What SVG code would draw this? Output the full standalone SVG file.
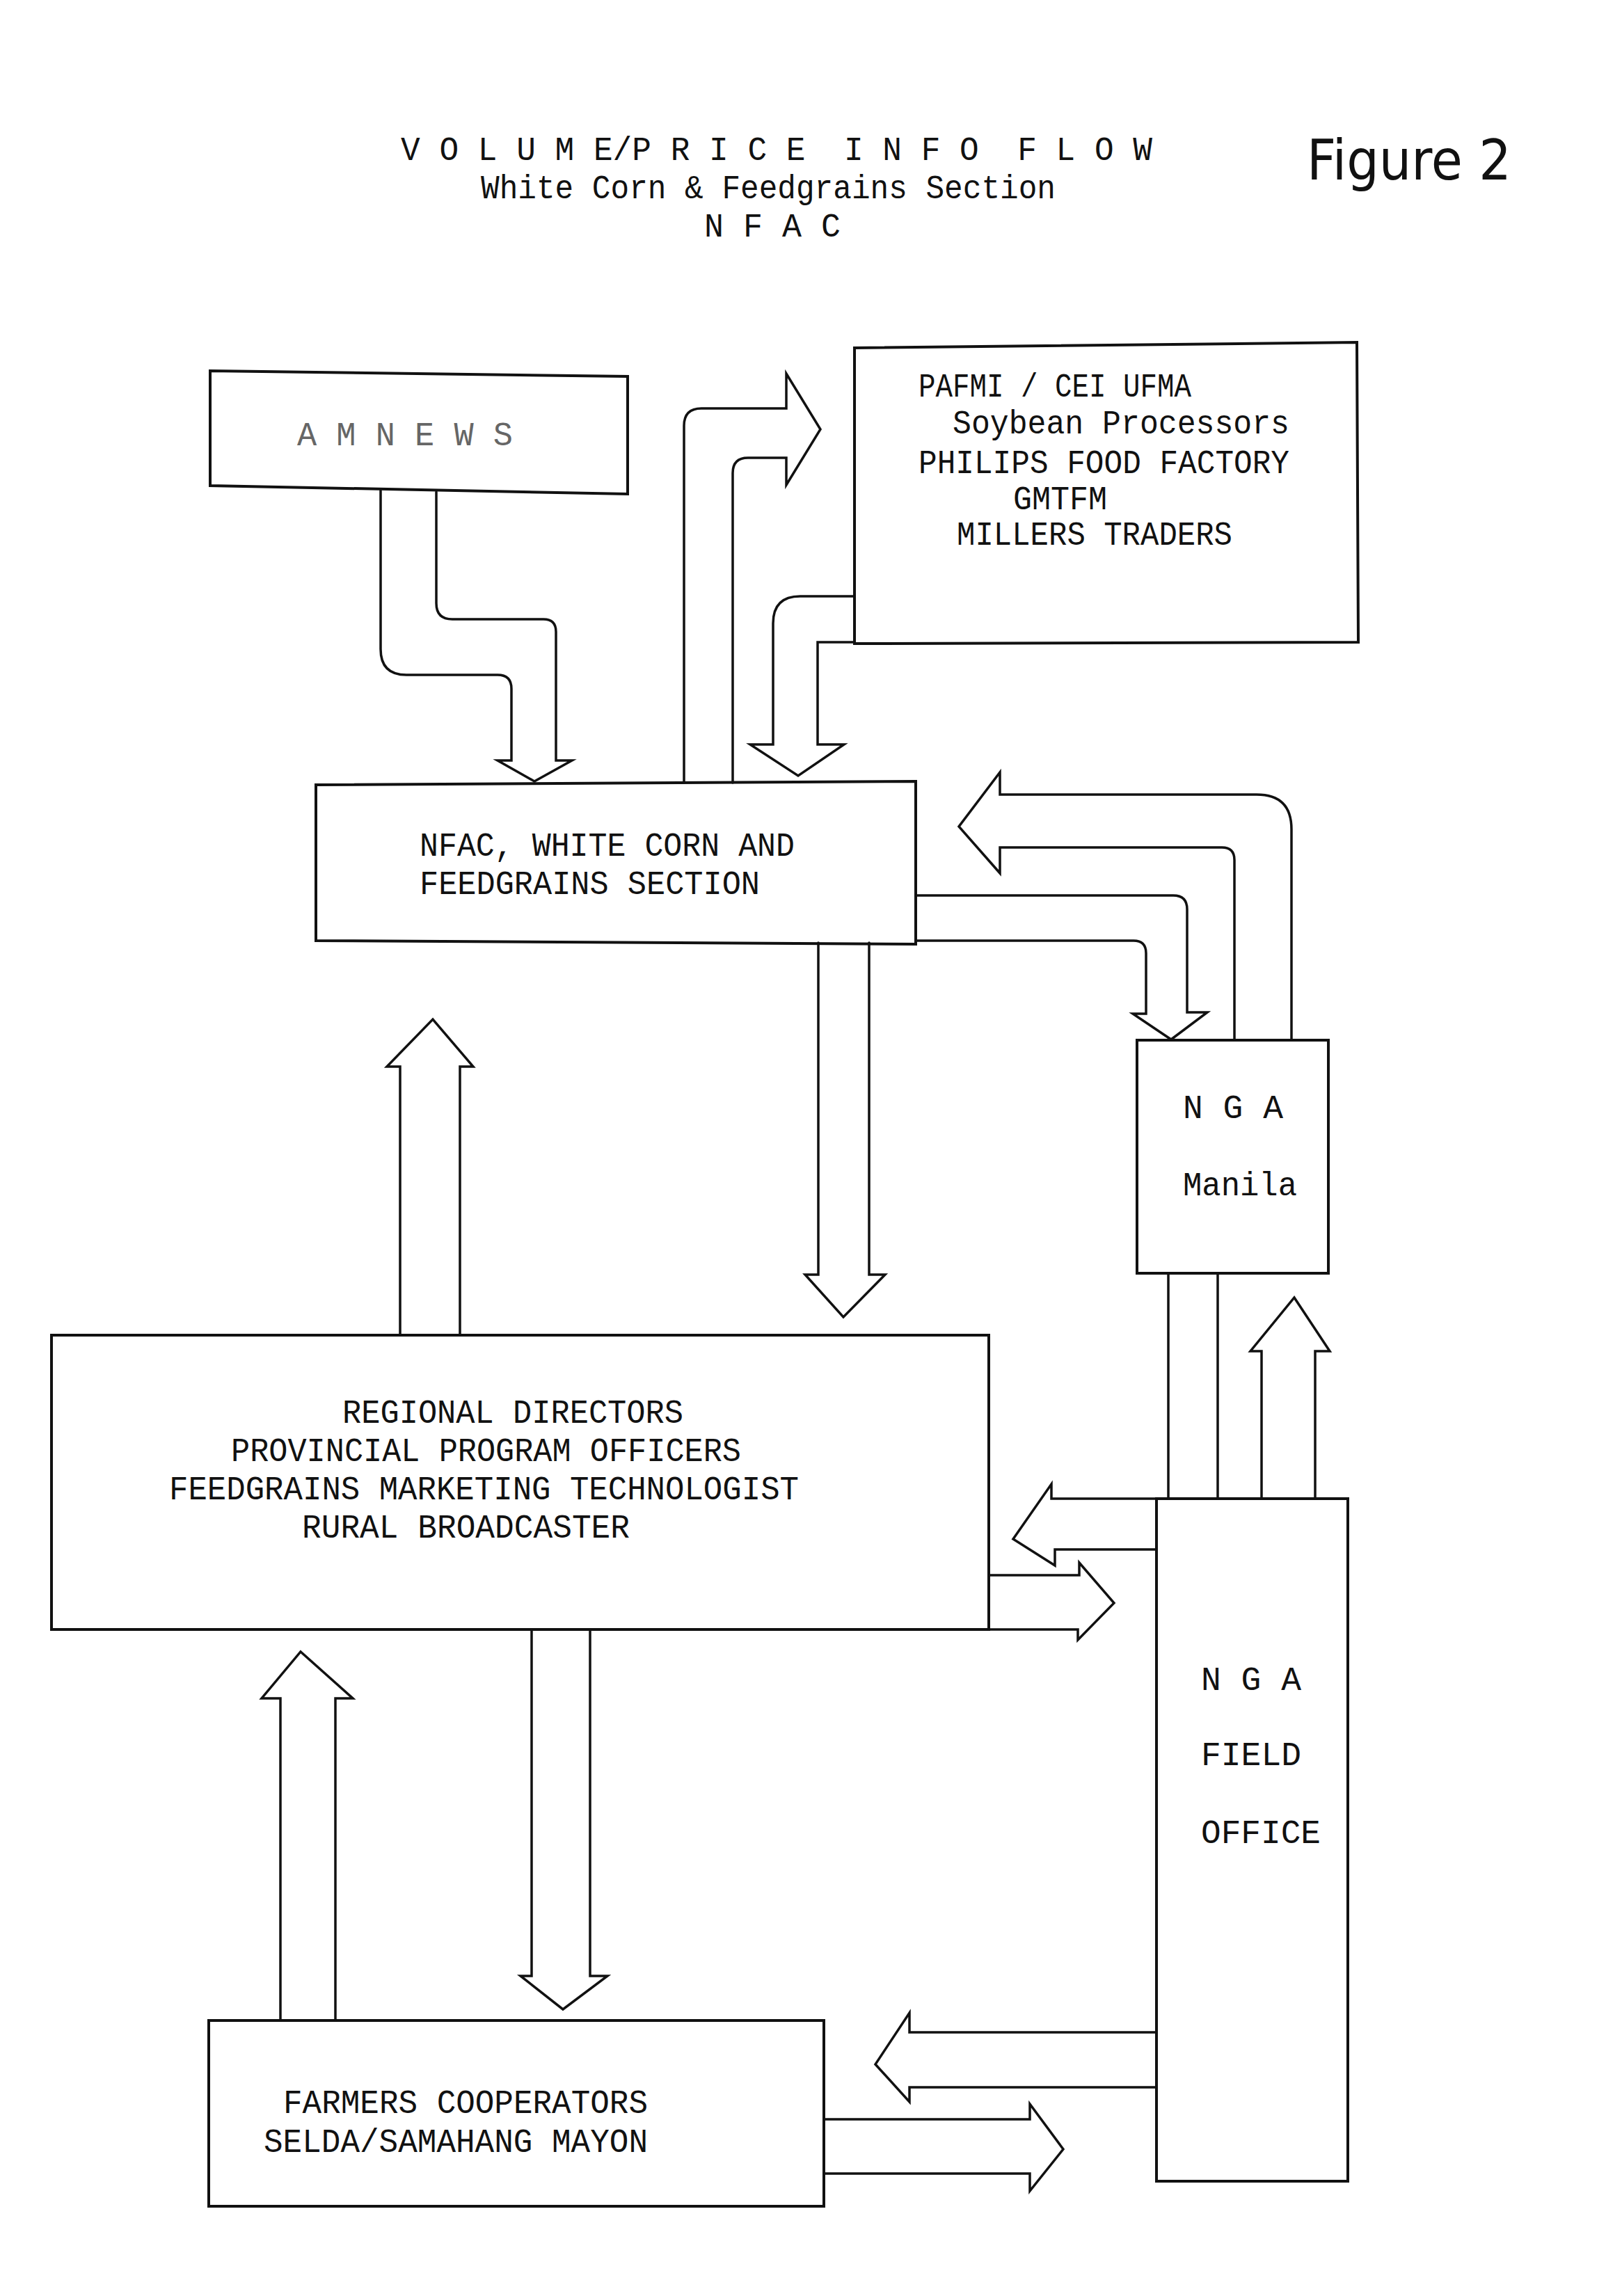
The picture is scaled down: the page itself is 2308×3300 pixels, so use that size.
<svg xmlns="http://www.w3.org/2000/svg" width="2308" height="3300" viewBox="0 0 2308 3300">
<style>
.box{fill:none;stroke:#111;stroke-width:4;stroke-linejoin:miter}
.arr{fill:none;stroke:#111;stroke-width:3.5;stroke-linejoin:miter;stroke-linecap:round}
.t{font-family:"Liberation Mono","DejaVu Sans Mono",monospace;font-size:48px;fill:#111;white-space:pre}
.faint{fill:#666}
.hand{font-family:"DejaVu Sans","Noto Sans",sans-serif;font-size:80px;fill:#111}
</style>
<rect x="0" y="0" width="2308" height="3300" fill="#ffffff"/>
<g id="title">
<text class="t" x="576" y="230" font-size="54" textLength="1080" lengthAdjust="spacingAndGlyphs" xml:space="preserve">V O L U M E/P R I C E  I N F O  F L O W</text>
<text class="t" x="691" y="285" font-size="50" textLength="826" lengthAdjust="spacingAndGlyphs">White Corn &amp; Feedgrains Section</text>
<text class="t" x="1012" y="340" font-size="48" textLength="196" lengthAdjust="spacingAndGlyphs">N F A C</text>
<text class="hand" x="1878" y="258" textLength="294" lengthAdjust="spacingAndGlyphs">Figure 2</text>
</g>
<g id="amnews">
<polygon class="box" points="302,533 902,541 902,710 302,698"/>
<text class="t faint" x="427" y="640" font-size="46" textLength="310" lengthAdjust="spacingAndGlyphs">A M N E W S</text>
</g>
<g id="pafmi">
<polygon class="box" points="1228,500 1950,492 1952,923 1228,925"/>
<text class="t" x="1320" y="570" textLength="392" lengthAdjust="spacingAndGlyphs">PAFMI / CEI UFMA</text>
<text class="t" x="1369" y="623" textLength="484" lengthAdjust="spacingAndGlyphs">Soybean Processors</text>
<text class="t" x="1320" y="680" textLength="533" lengthAdjust="spacingAndGlyphs">PHILIPS FOOD FACTORY</text>
<text class="t" x="1456" y="732" textLength="135" lengthAdjust="spacingAndGlyphs">GMTFM</text>
<text class="t" x="1375" y="783" textLength="396" lengthAdjust="spacingAndGlyphs">MILLERS TRADERS</text>
</g>
<g id="nfac">
<polygon class="box" points="454,1128 1316,1123 1316,1357 454,1352"/>
<text class="t" x="603" y="1230" font-size="50" textLength="539" lengthAdjust="spacingAndGlyphs">NFAC, WHITE CORN AND</text>
<text class="t" x="603" y="1285" font-size="50" textLength="489" lengthAdjust="spacingAndGlyphs">FEEDGRAINS SECTION</text>
</g>
<g id="nga-manila">
<rect class="box" x="1634" y="1495" width="275" height="335"/>
<text class="t" x="1700" y="1607" textLength="144" lengthAdjust="spacingAndGlyphs">N G A</text>
<text class="t" x="1700" y="1718" textLength="164" lengthAdjust="spacingAndGlyphs">Manila</text>
</g>
<g id="regional">
<rect class="box" x="74" y="1919" width="1347" height="423"/>
<text class="t" x="492" y="2045" textLength="490" lengthAdjust="spacingAndGlyphs">REGIONAL DIRECTORS</text>
<text class="t" x="332" y="2100" textLength="733" lengthAdjust="spacingAndGlyphs">PROVINCIAL PROGRAM OFFICERS</text>
<text class="t" x="243" y="2155" textLength="905" lengthAdjust="spacingAndGlyphs">FEEDGRAINS MARKETING TECHNOLOGIST</text>
<text class="t" x="434" y="2210" textLength="471" lengthAdjust="spacingAndGlyphs">RURAL BROADCASTER</text>
</g>
<g id="nga-field">
<rect class="box" x="1662" y="2154" width="275" height="981"/>
<text class="t" x="1726" y="2429" font-size="50" textLength="144" lengthAdjust="spacingAndGlyphs">N G A</text>
<text class="t" x="1726" y="2537" font-size="50" textLength="144" lengthAdjust="spacingAndGlyphs">FIELD</text>
<text class="t" x="1726" y="2649" font-size="50" textLength="172" lengthAdjust="spacingAndGlyphs">OFFICE</text>
</g>
<g id="farmers">
<rect class="box" x="300" y="2904" width="884" height="267"/>
<text class="t" x="407" y="3037" textLength="524" lengthAdjust="spacingAndGlyphs">FARMERS COOPERATORS</text>
<text class="t" x="379" y="3093" textLength="552" lengthAdjust="spacingAndGlyphs">SELDA/SAMAHANG MAYON</text>
</g>
<g id="connectors">
<path class="arr" d="M547,705 V933 Q547,970 584,970 H715 Q735,970 735,990 V1093 H715 L768,1123 L822,1093 H799 V908 Q799,890 781,890 H650 Q627,890 627,867 V707"/>
<path class="arr" d="M983,1125 V612 Q983,587 1008,587 H1130 V537 L1179,617 L1130,697 V658 H1075 Q1053,658 1053,680 V1125"/>
<path class="arr" d="M1228,857 H1150 Q1111,857 1111,896 V1070 H1078 L1147,1115 L1213,1070 H1175 V923 H1228"/>
<path class="arr" d="M1774,1495 V1236 Q1774,1218 1756,1218 H1437 V1255 L1378,1188 L1437,1110 V1142 H1806 Q1856,1142 1856,1192 V1495"/>
<path class="arr" d="M1316,1287 H1686 Q1706,1287 1706,1307 V1455 H1735 L1683,1494 L1628,1457 H1647 V1370 Q1647,1352 1629,1352 H1316"/>
<path class="arr" d="M1176,1355 V1832 H1157 L1212,1893 L1272,1832 H1249 V1355"/>
<path class="arr" d="M575,1919 V1533 H556 L622,1465 L680,1533 H661 V1919"/>
<path class="arr" d="M1679,1830 V2154 M1750,1830 V2154"/>
<path class="arr" d="M1813,2154 V1942 H1797 L1860,1865 L1911,1942 H1890 V2154"/>
<path class="arr" d="M1662,2154 H1511 V2133 L1456,2212 L1516,2250 V2227 H1662"/>
<path class="arr" d="M1421,2264 H1551 V2246 L1601,2304 L1549,2357 V2342 H1421"/>
<path class="arr" d="M764,2342 V2840 H748 L809,2888 L873,2840 H848 V2342"/>
<path class="arr" d="M403,2904 V2441 H376 L432,2374 L507,2441 H482 V2904"/>
<path class="arr" d="M1662,2921 H1307 V2893 L1258,2967 L1307,3021 V3000 H1662"/>
<path class="arr" d="M1184,3046 H1480 V3024 L1528,3089 L1480,3149 V3124 H1184"/>
</g>
</svg>
